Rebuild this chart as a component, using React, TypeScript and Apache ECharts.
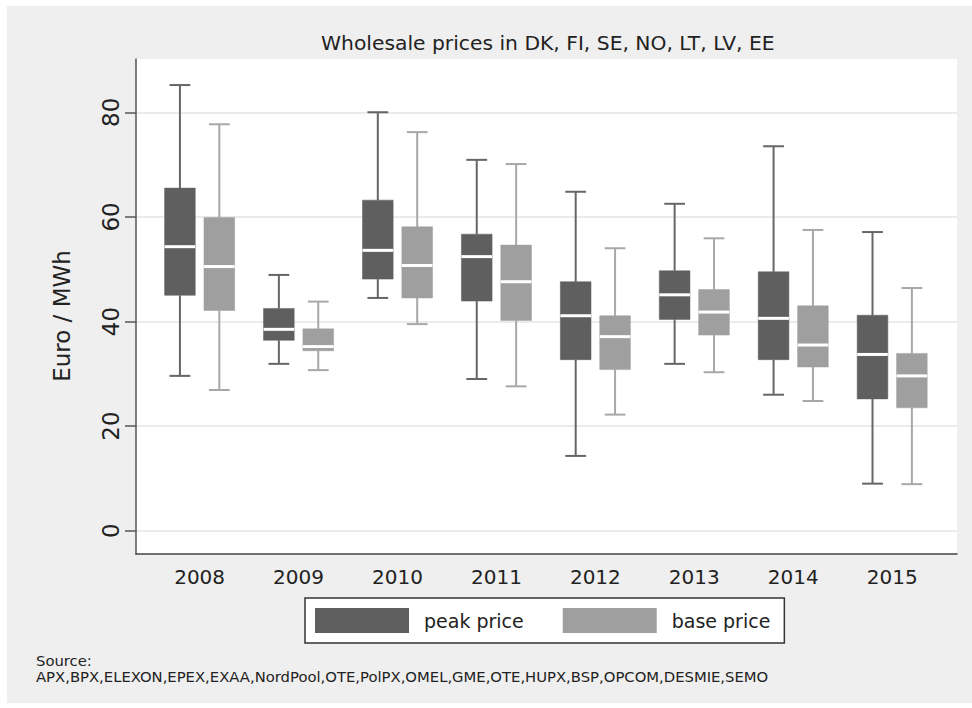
import React, { useEffect, useRef } from "react";
import * as echarts from "echarts";

const years = ["2008", "2009", "2010", "2011", "2012", "2013", "2014", "2015"];
const yTicks = [0, 20, 40, 60, 80];

// [min, q1, median, q3, max]
const peakPrice = [
  [29.6, 45.0, 54.3, 65.5, 85.2],
  [31.9, 36.4, 38.5, 42.5, 48.9],
  [44.5, 48.1, 53.6, 63.2, 80.0],
  [29.0, 43.9, 52.4, 56.7, 70.9],
  [14.3, 32.7, 41.1, 47.6, 64.8],
  [31.9, 40.4, 45.1, 49.7, 62.5],
  [26.0, 32.7, 40.6, 49.5, 73.5],
  [9.0, 25.2, 33.7, 41.2, 57.1],
];
const basePrice = [
  [26.9, 42.1, 50.5, 59.9, 77.7],
  [30.7, 34.4, 35.2, 38.6, 43.8],
  [39.5, 44.5, 50.7, 58.1, 76.2],
  [27.6, 40.2, 47.6, 54.6, 70.1],
  [22.2, 30.8, 37.1, 41.1, 54.0],
  [30.3, 37.4, 41.8, 46.1, 55.9],
  [24.8, 31.3, 35.5, 43.0, 57.5],
  [8.9, 23.5, 29.6, 33.9, 46.4],
];

const titleText = "Wholesale prices in DK, FI, SE, NO, LT, LV, EE";
const sources =
  "APX,BPX,ELEXON,EPEX,EXAA,NordPool,OTE,PolPX,OMEL,GME,OTE,HUPX,BSP,OPCOM,DESMIE,SEMO";

const FONT = "DejaVu Sans";

function measure(text: string, size: number): number {
  try {
    const c = document.createElement("canvas").getContext("2d");
    if (c) {
      c.font = `${size}px "${FONT}"`;
      return c.measureText(text).width;
    }
  } catch (e) {}
  return text.length * size * 0.6;
}

function makeRender(offset: number, boxColor: string, whiskerColor: string) {
  return (params: any, api: any) => {
    const k = api.value(0);
    const unit = api.size([1, 0])[0];
    const cx = api.coord([k, 0])[0] + offset * unit;
    const yMin = api.coord([k, api.value(1)])[1];
    const yQ1 = api.coord([k, api.value(2)])[1];
    const yMed = api.coord([k, api.value(3)])[1];
    const yQ3 = api.coord([k, api.value(4)])[1];
    const yMax = api.coord([k, api.value(5)])[1];
    const w = 0.31 * unit;
    const cap = 0.21 * unit;
    const ws = { stroke: whiskerColor, lineWidth: 2 };
    return {
      type: "group",
      children: [
        { type: "line", shape: { x1: cx, y1: yMax, x2: cx, y2: yQ3 }, style: ws },
        { type: "line", shape: { x1: cx, y1: yQ1, x2: cx, y2: yMin }, style: ws },
        { type: "line", shape: { x1: cx - cap / 2, y1: yMax, x2: cx + cap / 2, y2: yMax }, style: ws },
        { type: "line", shape: { x1: cx - cap / 2, y1: yMin, x2: cx + cap / 2, y2: yMin }, style: ws },
        {
          type: "rect",
          shape: { x: cx - w / 2, y: yQ3, width: w, height: yQ1 - yQ3 },
          style: { fill: boxColor, stroke: boxColor, lineWidth: 0.5 },
        },
        {
          type: "line",
          shape: { x1: cx - w / 2, y1: yMed, x2: cx + w / 2, y2: yMed },
          style: { stroke: "#ffffff", lineWidth: 3 },
        },
      ],
    };
  };
}

export default function App() {
  const ref = useRef<HTMLDivElement>(null);
  useEffect(() => {
    document.body.style.margin = "0";
    if (!ref.current) return;
    const chart = echarts.init(ref.current, null, { renderer: "svg" });
    const peakData = peakPrice.map((r, i) => [i, ...r]);
    const baseData = basePrice.map((r, i) => [i, ...r]);
    const titleSize = 20.3;
    const titleLeft = Math.round(547.5 - measure(titleText, titleSize) / 2);
    chart.setOption({
      animation: false,
      backgroundColor: "#ffffff",
      textStyle: { fontFamily: FONT },
      title: {
        text: titleText,
        left: titleLeft,
        top: 33,
        padding: 0,
        textStyle: { fontFamily: FONT, fontSize: titleSize, fontWeight: "normal", color: "#222" },
      },
      graphic: [
        {
          type: "rect",
          z: -10,
          silent: true,
          shape: { x: 7, y: 6, width: 965, height: 697 },
          style: { fill: "#efefef" },
        },
        {
          type: "text",
          x: 62,
          y: 316,
          rotation: Math.PI / 2,
          style: {
            text: "Euro / MWh",
            fontFamily: FONT,
            fontSize: 23,
            fill: "#222",
            align: "center",
            verticalAlign: "middle",
          },
        },
        {
          type: "text",
          x: 36,
          y: 652,
          style: {
            text: "Source:\n" + sources,
            fontFamily: FONT,
            fontSize: 14.8,
            lineHeight: 16.5,
            fill: "#222",
            align: "left",
            verticalAlign: "top",
          },
        },
      ],
      legend: {
        left: 305,
        top: 598,
        orient: "horizontal",
        padding: [10, 14, 10, 10],
        itemWidth: 94,
        itemHeight: 25,
        itemGap: 39,
        selectedMode: false,
        borderColor: "#333",
        borderWidth: 1.5,
        backgroundColor: "#fff",
        textStyle: { fontFamily: FONT, fontSize: 19, color: "#222", padding: [0, 0, 0, 10] },
        data: [
          { name: "peak price", icon: "rect" },
          { name: "base price", icon: "rect" },
        ],
      },
      grid: {
        left: 136,
        right: 15,
        top: 59,
        bottom: 154,
        show: true,
        backgroundColor: "#ffffff",
        borderWidth: 0,
      },
      xAxis: {
        type: "value",
        min: -0.643,
        max: 7.655,
        axisLine: { show: true, onZero: false, lineStyle: { color: "#444", width: 1.5 } },
        axisTick: { show: false },
        splitLine: { show: false },
        axisLabel: {
          customValues: years.map((_, i) => i),
          formatter: (v: number) => years[Math.round(v)] ?? "",
          fontFamily: FONT,
          fontSize: 20,
          color: "#222",
          margin: 13,
        },
      },
      yAxis: {
        type: "value",
        min: -4.45,
        max: 90.18,
        axisLine: { show: true, onZero: false, lineStyle: { color: "#555", width: 1.5 } },
        axisTick: { show: true, length: 11, customValues: yTicks, lineStyle: { color: "#555", width: 1.5 } },
        splitLine: { show: true, lineStyle: { color: "#ebebeb", width: 2 } },
        axisLabel: {
          customValues: yTicks,
          rotate: 90,
          fontFamily: FONT,
          fontSize: 23,
          color: "#222",
          margin: 14,
        },
      },
      series: [
        {
          name: "peak price",
          type: "custom",
          itemStyle: { color: "#5f5f5f" },
          encode: { x: 0, y: [1, 2, 3, 4, 5] },
          renderItem: makeRender(-0.199, "#5f5f5f", "#666666"),
          data: peakData,
        },
        {
          name: "base price",
          type: "custom",
          itemStyle: { color: "#9f9f9f" },
          encode: { x: 0, y: [1, 2, 3, 4, 5] },
          renderItem: makeRender(0.199, "#9f9f9f", "#a8a8a8"),
          data: baseData,
        },
      ],
    });
    return () => chart.dispose();
  }, []);
  return <div ref={ref} style={{ width: 972, height: 708 }} />;
}
